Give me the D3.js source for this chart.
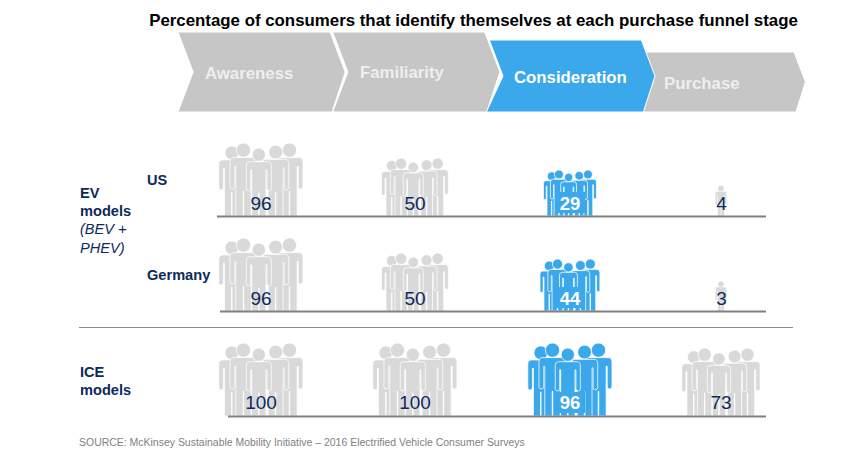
<!DOCTYPE html>
<html><head><meta charset="utf-8">
<script src="https://cdnjs.cloudflare.com/ajax/libs/d3/7.8.5/d3.min.js"></script>
<style>html,body{margin:0;background:#fff}svg{display:block}text{font-family:"Liberation Sans",Arial,sans-serif}</style>
</head><body><svg id="c" width="853" height="471"></svg>
<script>
const title = "Percentage of consumers that identify themselves at each purchase funnel stage";
const stages = ["Awareness","Familiarity","Consideration","Purchase"];
const rows = ["US","Germany","ICE"];
const valuesUS = [96,50,29,4];
const valuesGermany = [96,50,44,3];
const valuesICE = [100,100,96,73];
const highlightStage = "Consideration";
const source = "SOURCE: McKinsey Sustainable Mobility Initiative – 2016 Electrified Vehicle Consumer Surveys";

const GREY="#d9d9d9", CHEV="#c6c6c6", BLUE="#3ba8eb", NAVY="#0c2a5b", LINE="#808080";
const svg=d3.select("#c");
const x=d3.scaleOrdinal().domain(stages).range([261,415,570,721]);
const baseY=d3.scaleOrdinal().domain(rows).range([216,311,416]);
const lineStart=d3.scaleOrdinal().domain(rows).range([217,220,228]);
const h=d3.scaleLinear().domain([0,29,44,50,73,96]).range([28,46,52,58,68,73]).clamp(true);

svg.append("text").attr("x",473.5).attr("y",26).attr("text-anchor","middle")
  .attr("font-size",16.85).attr("font-weight",700).attr("fill","#000").text(title);

// chevrons: grey ones first, the highlighted one on top
const chevX=d3.scalePoint().domain(stages).range([178,642]);
const chevTop=d3.scaleOrdinal().domain(stages).range([32,32,40,52]);
const labelX=d3.scaleOrdinal().domain(stages).range([205,360,514,664]);
const labelY=d3.scaleOrdinal().domain(stages).range([79,78,83,89]);
[...stages].sort((a,b)=>(a===highlightStage)-(b===highlightStage)).forEach(s=>{
  const on=s===highlightStage, x0=chevX(s)+(on?2:0), t=chevTop(s), b=112;
  const mid=(t+b)/2, n=(b-t)*.19, w=152;
  const pts=[[x0,t],[x0+w,t],[x0+w+n,mid],[x0+w+2,b],[x0-(on?3:0),b],[x0+n,mid]];
  svg.append("path").attr("d",d3.line()(pts)+"Z").attr("fill",on?BLUE:CHEV).attr("stroke","#fff").attr("stroke-width",1);
});
stages.forEach(s=>{
  const on=s===highlightStage;
  svg.append("text").attr("x",labelX(s)).attr("y",labelY(s))
    .attr("font-size",16.8).attr("font-weight",700).attr("fill",on?"#fff":"#eeeeee").text(s);
});

// person in unit coordinates (height 1)
function personPath(){
  const p=d3.path();
  const a=.185,ai=.12,t=.105;
  p.moveTo(-.13,.2);p.quadraticCurveTo(-a,.2,-a,.26);p.lineTo(-a,.6);p.quadraticCurveTo(-a,.63,-.155,.63);
  p.quadraticCurveTo(-ai,.63,-ai,.6);p.lineTo(-ai,.32);p.lineTo(-t,.32);p.lineTo(-t,1);p.lineTo(-.004,1);p.lineTo(-.004,.66);
  p.lineTo(.004,.66);p.lineTo(.004,1);p.lineTo(t,1);p.lineTo(t,.32);p.lineTo(ai,.32);p.lineTo(ai,.6);
  p.quadraticCurveTo(ai,.63,.155,.63);p.quadraticCurveTo(a,.63,a,.6);p.lineTo(a,.26);p.quadraticCurveTo(a,.2,.13,.2);p.closePath();
  p.moveTo(.098,.098);p.arc(0,.098,.098,0,Math.PI*2);
  return p.toString();
}
const pd=personPath();
const crowd=[{dx:-.40,top:.04},{dx:.39,top:0},{dx:-.24,top:0},{dx:.2,top:.03},{dx:-.03,top:.07}];
const single=[{dx:0,top:0}];

function drawRow(row,vals){
  const g=svg.append("g");
  vals.forEach((v,i)=>{
    const st=stages[i],on=st===highlightStage,H=h(v),cx=x(st),by=baseY(row);
    const people=v<10?single:crowd;
    people.forEach(q=>{
      const s=H*(1-q.top);
      g.append("path").attr("d",pd)
       .attr("transform",`translate(${cx+q.dx*H},${by-s}) scale(${s})`)
       .attr("fill",on?BLUE:GREY).attr("stroke","#fff").attr("stroke-width",(v<10?.3:.75)/s);
    });
    if(on) g.append("rect").attr("x",cx-15).attr("width",30).attr("y",by-24).attr("height",21).attr("fill",BLUE);
    g.append("text").attr("x",cx+(v<10?.5:0)).attr("y",by-(row==="ICE"?7:6)).attr("text-anchor","middle")
     .attr("font-size",on?18.5:19).attr("font-weight",on?700:400).attr("fill",on?"#fff":NAVY).text(v);
  });
}
drawRow("US",valuesUS);
drawRow("Germany",valuesGermany);
drawRow("ICE",valuesICE);

rows.forEach(r=>{
  svg.append("line").attr("x1",lineStart(r)).attr("x2",766).attr("y1",baseY(r)+.5).attr("y2",baseY(r)+.5)
   .attr("stroke",LINE).attr("stroke-width",2);
});
svg.append("line").attr("x1",79).attr("x2",793).attr("y1",327.5).attr("y2",327.5).attr("stroke","#8c8c8c").attr("stroke-width",1);

const lab=(t,xx,yy,it)=>svg.append("text").attr("x",xx).attr("y",yy).attr("font-size",14.6).attr("font-weight",it?400:700)
  .attr("font-style",it?"italic":"normal").attr("fill",NAVY).text(t);
lab("US",147,185);lab("Germany",147,280);
lab("EV",80,198);lab("models",80,216);lab("(BEV +",80,234,true);lab("PHEV)",80,253,true);
lab("ICE",80,377);lab("models",80,395);
svg.append("text").attr("x",79).attr("y",446).attr("font-size",10.48).attr("fill","#7f7f7f").text(source);
</script></body></html>
